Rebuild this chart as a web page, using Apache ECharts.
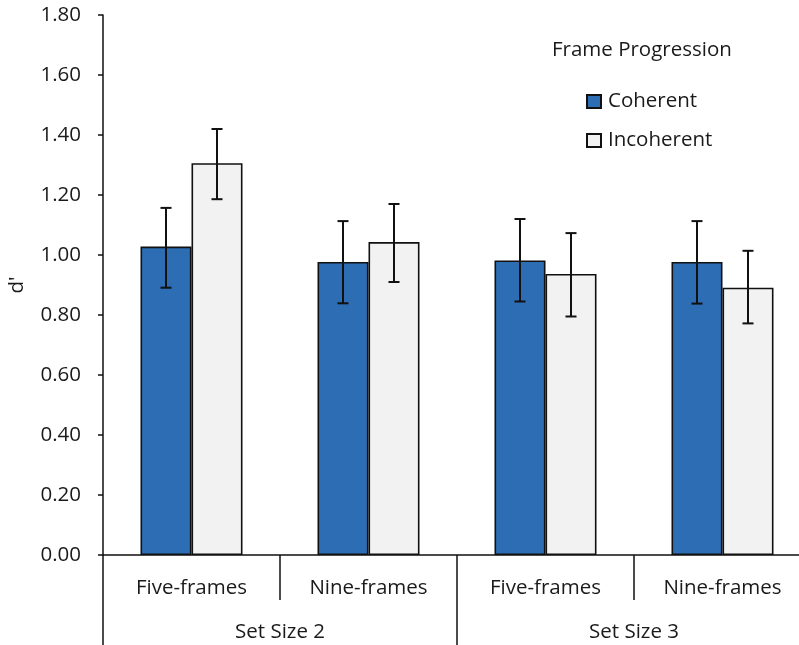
<!DOCTYPE html>
<html>
<head>
<meta charset="utf-8">
<script src="https://cdn.jsdelivr.net/npm/echarts@6/dist/echarts.min.js"></script>
<style>html,body{margin:0;padding:0;background:#fff}#c{width:799px;height:645px}</style>
</head>
<body>
<div id="c"></div>
<script>
var categories = ['Five-frames', 'Nine-frames', 'Five-frames', 'Nine-frames'];
var groups = ['Set Size 2', 'Set Size 3'];
var seriesNames = ['Coherent', 'Incoherent'];
var coherent = [1.028, 0.977, 0.982, 0.977];
var incoherent = [1.306, 1.043, 0.937, 0.891];
var coherentLow = [0.891, 0.839, 0.845, 0.838];
var coherentHigh = [1.157, 1.113, 1.120, 1.113];
var incoherentLow = [1.186, 0.910, 0.795, 0.772];
var incoherentHigh = [1.420, 1.170, 1.073, 1.014];
var yTicks = [0, 0.2, 0.4, 0.6, 0.8, 1.0, 1.2, 1.4, 1.6, 1.8];

var FONT = 'Open Sans';
var FS = 20.5;
var BAR_W = 51;

function errData(low, high) {
  return low.map(function (l, i) { return [i, l, high[i]]; });
}
function errRender(offset) {
  return function (params, api) {
    var i = api.value(0);
    var p1 = api.coord([i, api.value(1)]);
    var p2 = api.coord([i, api.value(2)]);
    var x = p1[0] + offset;
    var cap = 5.5;
    var st = { stroke: '#111', lineWidth: 2 };
    return {
      type: 'group',
      children: [
        { type: 'line', shape: { x1: x, y1: p1[1], x2: x, y2: p2[1] }, style: st },
        { type: 'line', shape: { x1: x - cap, y1: p1[1], x2: x + cap, y2: p1[1] }, style: st },
        { type: 'line', shape: { x1: x - cap, y1: p2[1], x2: x + cap, y2: p2[1] }, style: st }
      ]
    };
  };
}

var chart = echarts.init(document.getElementById('c'), null, { renderer: 'canvas' });
chart.setOption({
  animation: false,
  backgroundColor: '#fff',
  textStyle: { fontFamily: FONT },
  title: {
    text: 'Frame Progression',
    left: 547, top: 35,
    textStyle: { fontFamily: FONT, fontSize: FS, fontWeight: 'normal', color: '#1a1a1a' }
  },
  legend: {
    orient: 'vertical',
    left: 581, top: 86,
    itemWidth: 14, itemHeight: 13,
    itemGap: 18,
    icon: 'rect',
    textStyle: { fontFamily: FONT, fontSize: FS, color: '#1a1a1a', padding: [0, 0, 0, 2] },
    data: seriesNames
  },
  grid: { left: 103, top: 15, width: 708, height: 540, containLabel: false, outerBoundsMode: 'none' },
  xAxis: [
    {
      type: 'category', data: categories, position: 'bottom',
      axisLine: { show: true, lineStyle: { color: '#111', width: 1.5 } },
      axisTick: { show: true, length: 45, lineStyle: { color: '#111', width: 1.5 } },
      axisLabel: { fontFamily: FONT, fontSize: FS, color: '#1a1a1a', margin: 23 }
    },
    {
      type: 'category', data: groups, position: 'bottom',
      axisLine: { show: false },
      axisTick: { show: true, length: 95, lineStyle: { color: '#111', width: 1.5 } },
      axisLabel: { fontFamily: FONT, fontSize: FS, color: '#1a1a1a', margin: 67 }
    }
  ],
  yAxis: {
    type: 'value', min: 0, max: 1.8, interval: 0.2,
    name: "d'", nameLocation: 'middle', nameGap: 75, nameRotate: 90,
    nameTextStyle: { fontFamily: FONT, fontSize: FS, color: '#1a1a1a' },
    axisLine: { show: true, lineStyle: { color: '#111', width: 1.5 } },
    axisTick: { show: true, inside: false, length: 5, lineStyle: { color: '#111', width: 1.5 } },
    splitLine: { show: false },
    axisLabel: {
      fontFamily: FONT, fontSize: FS, color: '#1a1a1a', margin: 22,
      formatter: function (v) { return v.toFixed(2); }
    }
  },
  series: [
    {
      name: seriesNames[0], type: 'bar', data: coherent, barWidth: BAR_W, barGap: '0%',
      itemStyle: { color: '#2c6db4', borderColor: '#111', borderWidth: 1.6 }
    },
    {
      name: seriesNames[1], type: 'bar', data: incoherent, barWidth: BAR_W, barGap: '0%',
      itemStyle: { color: '#f2f2f2', borderColor: '#111', borderWidth: 1.6 }
    },
    {
      type: 'custom', data: errData(coherentLow, coherentHigh), renderItem: errRender(-BAR_W / 2),
      encode: { x: 0, y: [1, 2] }, z: 5, silent: true
    },
    {
      type: 'custom', data: errData(incoherentLow, incoherentHigh), renderItem: errRender(BAR_W / 2),
      encode: { x: 0, y: [1, 2] }, z: 5, silent: true
    }
  ]
});
</script>
</body>
</html>
